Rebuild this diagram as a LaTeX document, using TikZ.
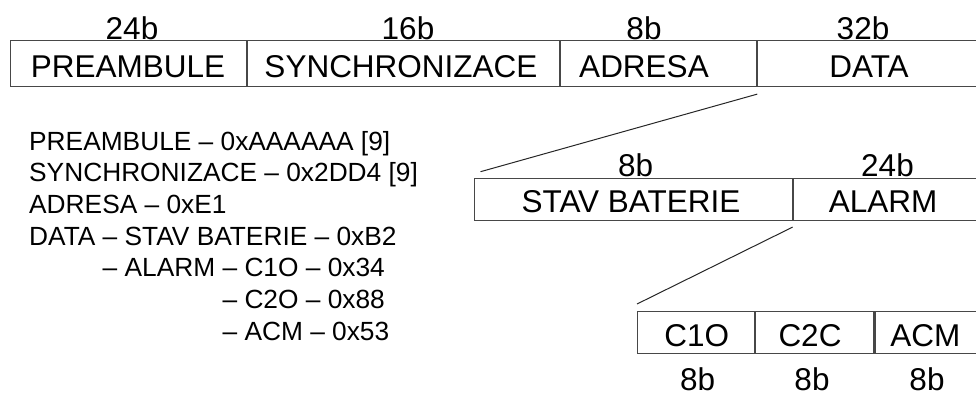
\documentclass[tikz,border=0pt]{standalone}
\usepackage{fontspec}
\setmainfont{Liberation Sans}
\usetikzlibrary{calc}
\begin{document}
\begin{tikzpicture}[x=1pt,y=-1pt,
  cell/.style={draw=black!72, line width=1.1pt, rectangle, inner sep=0pt, anchor=north west},
  big/.style={font=\fontsize{31.5}{36}\selectfont, inner sep=0pt, anchor=base},
  small/.style={font=\fontsize{26.3}{31.7}\selectfont, inner sep=0pt, anchor=base west},
  fan/.style={draw=black!85, line width=1pt}]
\useasboundingbox (0,0) rectangle (976,392);
% top frame
\node[cell, minimum width=235.7, minimum height=46] (pre) at (10,40) {};
\node[cell, minimum width=312.3, minimum height=46] (syn) at (pre.north east) {};
\node[cell, minimum width=196, minimum height=46] (adr) at (syn.north east) {};
\node[cell, minimum width=224, minimum height=46] (dat) at (adr.north east) {};
\node[big] (tpre) at (128,77) {PREAMBULE};
\node[big] (tsyn) at (401,77) {SYNCHRONIZACE};
\node[big] (tadr) at (644,77) {ADRESA};
\node[big] (tdat) at (869,77) {DATA};
\node[big] (bpre) at (132,39) {24b};
\node[big] (bsyn) at (408,39) {16b};
\node[big] (badr) at (644,39) {8b};
\node[big] (bdat) at (863,39) {32b};
% second frame
\node[cell, minimum width=318, minimum height=42.3] (stav) at (473.5,177.7) {};
\node[cell, minimum width=186.5, minimum height=42.3] (alarm) at (stav.north east) {};
\node[big] (tstav) at (631,212.7) {STAV BATERIE};
\node[big] (talarm) at (883,212.7) {ALARM};
\node[big] (bstav) at (635.6,176.5) {8b};
\node[big] (balarm) at (887.5,176.5) {24b};
% third frame
\node[cell, minimum width=117.7, minimum height=41.7] (c1o) at (636.5,311) {};
\node[cell, minimum width=118, minimum height=41.7] (c2c) at (c1o.north east) {};
\node[cell, minimum width=117.8, minimum height=41.7] (acm) at (c2c.north east) {};
\node[big] (tc1o) at (696.7,346) {C1O};
\node[big] (tc2c) at (810,346) {C2C};
\node[big] (tacm) at (925.3,346) {ACM};
\node[big] (bc1o) at (697.6,390) {8b};
\node[big] (bc2c) at (812,390) {8b};
\node[big] (bacm) at (927,390) {8b};
% fan lines
\coordinate (f1a) at ($(dat.south west)+(0,7)$);
\coordinate (f1b) at ($(stav.north west)+(7,-6)$);
\coordinate (f2a) at ($(alarm.south west)+(0,6)$);
\coordinate (f2b) at ($(c1o.north west)+(0.5,-7)$);
\draw[fan] (f1a) -- (f1b);
\draw[fan] (f2a) -- (f2b);
% legend
\node[small] (l1) at (29,150) {PREAMBULE – 0xAAAAAA [9]};
\node[small] (l2) at (29,181.7) {SYNCHRONIZACE – 0x2DD4 [9]};
\node[small] (l3) at (29,213.4) {ADRESA – 0xE1};
\node[small] (l4) at (29,245) {DATA – STAV BATERIE – 0xB2};
\node[small] (l5) at (29,276.8) {\phantom{DATA~}– ALARM – C1O – 0x34};
\node[small] (l6) at (29,308.5) {\phantom{DATA~– ALARM~}– C2O – 0x88};
\node[small] (l7) at (29,340.2) {\phantom{DATA~– ALARM~}– ACM – 0x53};
\end{tikzpicture}
\end{document}
